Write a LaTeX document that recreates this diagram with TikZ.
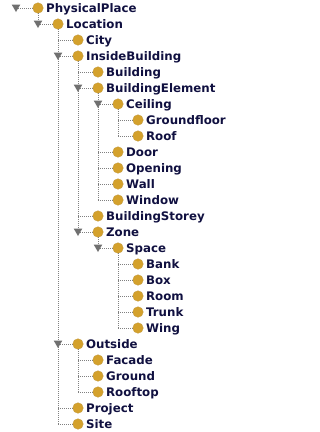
\documentclass[tikz,border=0pt]{standalone}
\usepackage{fontspec}
\setmainfont{DejaVu Sans}
\usepackage{xcolor}
\usetikzlibrary{positioning,shapes.geometric}
\definecolor{classgold}{RGB}{212,161,44}
\definecolor{classtext}{RGB}{16,16,64}
\definecolor{treegray}{RGB}{128,128,128}
\definecolor{togglegray}{RGB}{112,112,112}
\tikzset{
  classname/.style={
    font=\fontsize{11.8}{13}\selectfont\bfseries,
    text=classtext,
    inner sep=0pt,
    text height=9pt,
    text depth=0pt,
    xshift=2.5pt
  },
  classdot/.style={
    circle,
    fill=classgold,
    draw=classgold!80!gray,
    line width=0.4pt,
    minimum size=10.5pt,
    inner sep=0pt,
    label={[classname]right:#1}
  },
  toggle/.style={
    regular polygon,
    regular polygon sides=3,
    shape border rotate=180,
    fill=togglegray,
    minimum size=10pt,
    inner sep=0pt,
    yshift=1pt
  },
  treeline/.style={
    draw=treegray,
    line width=1pt,
    dash pattern=on 1pt off 1pt
  }
}

\begin{document}
\begin{tikzpicture}[x=1pt,y=-1pt]
\useasboundingbox (0,0) rectangle (320,432);
\coordinate (root) at (16,8);
\node[classdot=PhysicalPlace] (pp) at (38,8) {};
\node[classdot=Location] (loc) at (58,24) {};
\node[classdot=City] (city) at (78,40) {};
\node[classdot=InsideBuilding] (inb) at (78,56) {};
\node[classdot=Building] (bldg) at (98,72) {};
\node[classdot=BuildingElement] (bel) at (98,88) {};
\node[classdot=Ceiling] (ceil) at (118,104) {};
\node[classdot=Groundfloor] (gfl) at (138,120) {};
\node[classdot=Roof] (roof) at (138,136) {};
\node[classdot=Door] (door) at (118,152) {};
\node[classdot=Opening] (open) at (118,168) {};
\node[classdot=Wall] (wall) at (118,184) {};
\node[classdot=Window] (win) at (118,200) {};
\node[classdot=BuildingStorey] (bst) at (98,216) {};
\node[classdot=Zone] (zone) at (98,232) {};
\node[classdot=Space] (space) at (118,248) {};
\node[classdot=Bank] (bank) at (138,264) {};
\node[classdot=Box] (box) at (138,280) {};
\node[classdot=Room] (room) at (138,296) {};
\node[classdot=Trunk] (trunk) at (138,312) {};
\node[classdot=Wing] (wing) at (138,328) {};
\node[classdot=Outside] (out) at (78,344) {};
\node[classdot=Facade] (fac) at (98,360) {};
\node[classdot=Ground] (grd) at (98,376) {};
\node[classdot=Rooftop] (rtop) at (98,392) {};
\node[classdot=Project] (proj) at (78,408) {};
\node[classdot=Site] (site) at (78,424) {};

% vertical guides, one per expanded class
\draw[treeline] (pp.south) -- (pp |- loc);
\draw[treeline] (loc.south) -- (loc |- site);
\draw[treeline] (inb.south) -- (inb |- zone);
\draw[treeline] (bel.south) -- (bel |- win);
\draw[treeline] (ceil.south) -- (ceil |- roof);
\draw[treeline] (zone.south) -- (zone |- space);
\draw[treeline] (space.south) -- (space |- wing);
\draw[treeline] (out.south) -- (out |- rtop);

% horizontal branches
\draw[treeline] (root) -- (pp.west);
\draw[treeline] (pp |- loc) -- (loc.west);
\draw[treeline] (loc |- city) -- (city.west);
\draw[treeline] (loc |- inb) -- (inb.west);
\draw[treeline] (inb |- bldg) -- (bldg.west);
\draw[treeline] (inb |- bel) -- (bel.west);
\draw[treeline] (bel |- ceil) -- (ceil.west);
\draw[treeline] (ceil |- gfl) -- (gfl.west);
\draw[treeline] (ceil |- roof) -- (roof.west);
\draw[treeline] (bel |- door) -- (door.west);
\draw[treeline] (bel |- open) -- (open.west);
\draw[treeline] (bel |- wall) -- (wall.west);
\draw[treeline] (bel |- win) -- (win.west);
\draw[treeline] (inb |- bst) -- (bst.west);
\draw[treeline] (inb |- zone) -- (zone.west);
\draw[treeline] (zone |- space) -- (space.west);
\draw[treeline] (space |- bank) -- (bank.west);
\draw[treeline] (space |- box) -- (box.west);
\draw[treeline] (space |- room) -- (room.west);
\draw[treeline] (space |- trunk) -- (trunk.west);
\draw[treeline] (space |- wing) -- (wing.west);
\draw[treeline] (loc |- out) -- (out.west);
\draw[treeline] (out |- fac) -- (fac.west);
\draw[treeline] (out |- grd) -- (grd.west);
\draw[treeline] (out |- rtop) -- (rtop.west);
\draw[treeline] (loc |- proj) -- (proj.west);
\draw[treeline] (loc |- site) -- (site.west);

% expand toggles
\node[toggle] (pp-t) at (root) {};
\node[toggle] (loc-t) at (pp |- loc) {};
\node[toggle] (inb-t) at (loc |- inb) {};
\node[toggle] (bel-t) at (inb |- bel) {};
\node[toggle] (ceil-t) at (bel |- ceil) {};
\node[toggle] (zone-t) at (inb |- zone) {};
\node[toggle] (space-t) at (zone |- space) {};
\node[toggle] (out-t) at (loc |- out) {};
\end{tikzpicture}
\end{document}
